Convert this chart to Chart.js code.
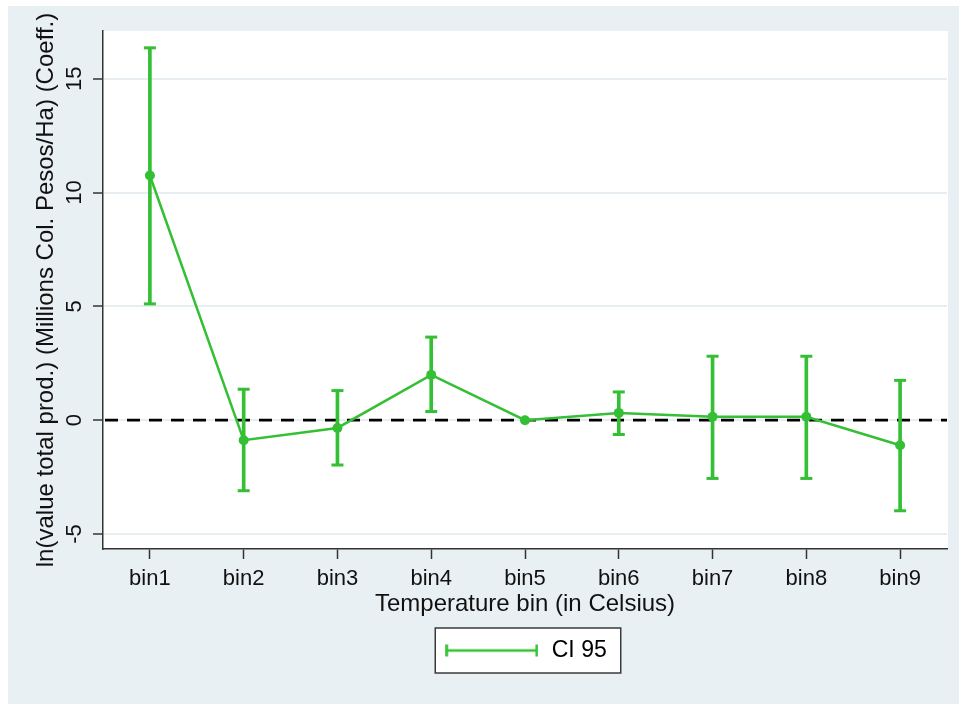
<!DOCTYPE html>
<html><head><meta charset="utf-8">
<script src="https://cdn.jsdelivr.net/npm/chart.js@4.4.1/dist/chart.umd.min.js"></script>
<style>html,body{margin:0;padding:0;background:#fff;}#wrap{width:959px;height:704px;position:relative;}</style>
</head><body><div id="wrap"><canvas id="c" width="959" height="704" style="width:959px;height:704px;"></canvas></div>
<script>
// ---- data ----
const categories = ['bin1','bin2','bin3','bin4','bin5','bin6','bin7','bin8','bin9'];
const coef   = [10.75, -0.88, -0.34, 1.99, 0, 0.32, 0.15, 0.15, -1.10];
const ciLow  = [5.11, -3.10, -1.97, 0.38, null, -0.63, -2.56, -2.56, -3.98];
const ciHigh = [16.36, 1.36, 1.30, 3.65, null, 1.24, 2.81, 2.81, 1.75];
const yTicks = [-5, 0, 5, 10, 15];
const yTitle = 'ln(value total prod.) (Millions Col. Pesos/Ha) (Coeff.)';
const xTitle = 'Temperature bin (in Celsius)';
const legendLabel = 'CI 95';

const GREEN = '#34bf34';
const BG = '#e9f0f3';
const FONT = "'Liberation Sans', Arial, sans-serif";
Chart.defaults.font.family = FONT;
Chart.defaults.color = '#111';

// legend icon: horizontal error bar
const icon = document.createElement('canvas');
icon.width = 93; icon.height = 14;
(function(){const g = icon.getContext('2d'); g.strokeStyle = GREEN; g.lineWidth = 2.6;
 g.beginPath(); g.moveTo(1.5,7); g.lineTo(91.5,7); g.moveTo(1.5,1); g.lineTo(1.5,13); g.moveTo(91.5,1); g.lineTo(91.5,13); g.stroke();})();

const bgPlugin = {
  id: 'bg',
  beforeDraw(chart) {
    const {ctx, chartArea: a} = chart;
    ctx.save();
    ctx.fillStyle = '#fff'; ctx.fillRect(0,0,chart.width,chart.height);
    ctx.fillStyle = BG; ctx.fillRect(8,6,chart.width-8,chart.height-6);
    ctx.fillStyle = '#fff'; ctx.fillRect(a.left, a.top, a.right-a.left+1, a.bottom-a.top);
    const hb = chart.legend && chart.legend.legendHitBoxes && chart.legend.legendHitBoxes[0];
    if (hb) {
      const cy = hb.top + hb.height/2;
      const l = hb.left - 8, r = hb.left + hb.width + 14;
      ctx.fillStyle = '#fff'; ctx.fillRect(l, cy-22.5, r-l, 45);
      ctx.strokeStyle = '#3a3a3a'; ctx.lineWidth = 1.5; ctx.strokeRect(l, cy-22.5, r-l, 45);
    }
    ctx.restore();
  },
  beforeDatasetsDraw(chart) {
    const {ctx, chartArea: a, scales: {y}} = chart;
    const py = y.getPixelForValue(0);
    ctx.save();
    ctx.strokeStyle = '#000'; ctx.lineWidth = 2.7; ctx.setLineDash([13,9]);
    ctx.beginPath(); ctx.moveTo(a.left+2, py); ctx.lineTo(a.right, py); ctx.stroke();
    ctx.restore();
  }
};

new Chart(document.getElementById('c'), {
  data: {
    labels: categories,
    datasets: [
      { type: 'line', label: 'coef', data: coef, borderColor: GREEN, backgroundColor: GREEN,
        borderWidth: 2.5, pointRadius: 5, pointBackgroundColor: GREEN, pointBorderWidth: 0, tension: 0 },
      { type: 'line', label: 'hi', data: ciHigh, showLine: false, pointStyle: 'line', pointRadius: 6,
        pointBorderWidth: 3, borderColor: GREEN, backgroundColor: GREEN },
      { type: 'line', label: 'lo', data: ciLow, showLine: false, pointStyle: 'line', pointRadius: 6,
        pointBorderWidth: 3, borderColor: GREEN, backgroundColor: GREEN },
      { type: 'bar', label: legendLabel,
        data: categories.map((c,i) => ciLow[i] == null ? null : [ciLow[i], ciHigh[i]]),
        backgroundColor: GREEN, borderWidth: 0, barThickness: 3 }
    ]
  },
  options: {
    responsive: false,
    animation: false,
    devicePixelRatio: 1,
    layout: { padding: { top: 31, right: 12, left: 0, bottom: 32 } },
    plugins: {
      tooltip: { enabled: false },
      legend: {
        position: 'bottom', fullSize: false,
        labels: {
          usePointStyle: true, pointStyleWidth: 97, padding: 10,
          font: { size: 23 }, color: '#111',
          generateLabels: () => [{ text: legendLabel, pointStyle: icon, fillStyle: GREEN, strokeStyle: GREEN,
                                   lineWidth: 0, hidden: false, datasetIndex: 3 }]
        }
      }
    },
    scales: {
      x: {
        type: 'category', offset: true,
        grid: { offset: false, drawOnChartArea: false, drawTicks: true, tickLength: 10, tickColor: '#333', tickWidth: 1.5 },
        border: { display: true, color: '#333', width: 1.5 },
        ticks: { font: { size: 22 }, color: '#111', padding: 7, maxRotation: 0, minRotation: 0 },
        title: { display: true, text: xTitle, font: { size: 24 }, color: '#111', padding: { top: 0, bottom: 10 } },
        afterFit: s => { s.height = 80; }
      },
      y: {
        type: 'linear', min: -5.66, max: 17.1,
        afterBuildTicks: s => { s.ticks = yTicks.map(v => ({ value: v })); },
        grid: { color: '#e6eef1', lineWidth: 2, tickLength: 10, tickColor: '#333', tickWidth: 1.5 },
        border: { display: true, color: '#333', width: 1.5 },
        ticks: { font: { size: 22 }, color: '#111', minRotation: 90, maxRotation: 90, crossAlign: 'center', padding: 6 },
        title: { display: true, text: yTitle, font: { size: 24 }, color: '#111', padding: { top: 31.5, bottom: 0 } },
        afterFit: s => { s.width = 103; }
      }
    }
  },
  plugins: [bgPlugin]
});
</script></body></html>
